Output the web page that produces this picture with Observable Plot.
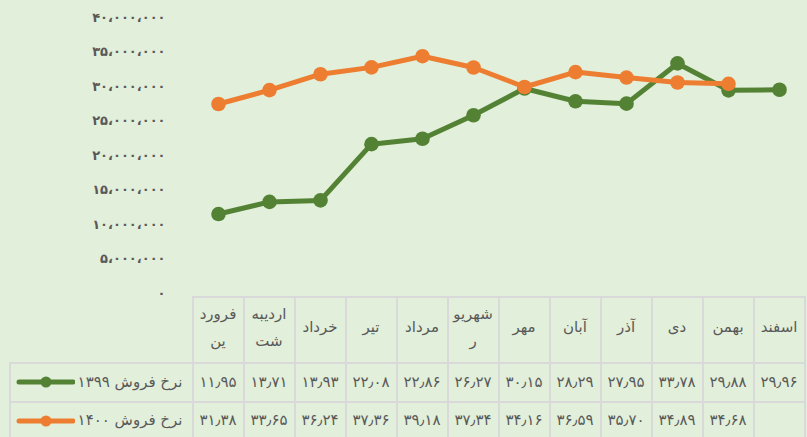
<!DOCTYPE html>
<html>
<head>
<meta charset="utf-8">
<script src="https://cdn.jsdelivr.net/npm/d3@7"></script>
<script src="https://cdn.jsdelivr.net/npm/@observablehq/plot@0.6"></script>
<style>
  html, body { margin: 0; padding: 0; background: #E2EFDA; }
  #chart { position: relative; width: 807px; height: 437px; overflow: hidden; background: #E2EFDA;
           font-family: "DejaVu Sans", sans-serif; color: #595959; }
  #chart svg { position: absolute; left: 0; top: 0; }
  .cell { position: absolute; box-sizing: border-box; border: 2px solid #d9d9d9;
          display: flex; align-items: center; justify-content: center; text-align: center;
          font-size: 15px; color: #595959; white-space: pre-line; line-height: 27px; direction: rtl; }
  .hdr { padding-bottom: 5px; }
  .val { letter-spacing: 1px; }
  .legcell { justify-content: space-between; direction: ltr; padding: 0 9px 0 4px; }
</style>
</head>
<body>
<div id="chart"></div>
<script>
// ---- data ----
const months = ["فروردین","اردیبهشت","خرداد","تیر","مرداد","شهریور","مهر","آبان","آذر","دی","بهمن","اسفند"];
const monthLabels = ["فرورد\nین","اردیبه\nشت","خرداد","تیر","مرداد","شهریو\nر","مهر","آبان","آذر","دی","بهمن","اسفند"];
const series1399Name = "نرخ فروش ۱۳۹۹";
const series1400Name = "نرخ فروش ۱۴۰۰";
// values in millions
const sales1399 = [11.95, 13.71, 13.93, 22.08, 22.86, 26.27, 30.15, 28.29, 27.95, 33.78, 29.88, 29.96];
const sales1400 = [31.38, 33.65, 36.24, 37.36, 39.18, 37.34, 34.16, 36.59, 35.70, 34.89, 34.68];
const yTicks = [0, 5e6, 10e6, 15e6, 20e6, 25e6, 30e6, 35e6, 40e6];
const primaryMax = 40;    // primary axis max (millions)
const secondaryMax = 45;  // hidden secondary axis max used by the 1400 series (millions)

const green = "#548235";
const orange = "#ED7D31";

const faDigits = s => String(s).replace(/\d/g, d => "۰۱۲۳۴۵۶۷۸۹"[d]);
const fmtTick = v => faDigits(d3.format(",")(v)).replace(/,/g, "،");
const fmtVal = v => faDigits(v.toFixed(2)).replace(".", "٫");

const d1399 = sales1399.map((v, i) => ({month: months[i], value: v * 1e6}));
const d1400 = sales1400.map((v, i) => ({month: months[i], value: v * 1e6 * primaryMax / secondaryMax}));

const plot = Plot.plot({
  width: 807, height: 297,
  marginLeft: 172, marginRight: 0, marginTop: 20, marginBottom: 1,
  style: {background: "transparent", fontFamily: "DejaVu Sans", color: "#595959", overflow: "visible"},
  x: {type: "point", domain: months, range: [213.6, 783.4], padding: 0, axis: null},
  y: {domain: [0, 40e6], axis: null},
  marks: [
    Plot.axisY({ticks: yTicks, tickSize: 0, tickPadding: 7, tickFormat: fmtTick, fontSize: 13, fontWeight: "bold", fill: "#595959", anchor: "left", dy: -3, label: null}),
    Plot.line(d1399, {x: "month", y: "value", stroke: green, strokeWidth: 5, strokeLinecap: "round", strokeLinejoin: "round"}),
    Plot.dot(d1399, {x: "month", y: "value", fill: green, r: 7.3}),
    Plot.line(d1400, {x: "month", y: "value", stroke: orange, strokeWidth: 5, strokeLinecap: "round", strokeLinejoin: "round"}),
    Plot.dot(d1400, {x: "month", y: "value", fill: orange, r: 7.3})
  ]
});

const chart = document.getElementById("chart");
chart.appendChild(plot);

// ---- data table below the plot, aligned to Plot's x scale ----
const xs = plot.scale("x");
const step = xs.apply(months[1]) - xs.apply(months[0]);
const rows = [
  {top: 297, bottom: 363.3},
  {top: 363.3, bottom: 401.7},
  {top: 401.7, bottom: 440}
];
const tableLeft = 10;

function cell(x0, x1, y0, y1, html, cls) {
  const d = document.createElement("div");
  d.className = "cell" + (cls ? " " + cls : "");
  d.style.left = (x0 - 1) + "px";
  d.style.top = (y0 - 1) + "px";
  d.style.width = (x1 - x0 + 2) + "px";
  d.style.height = (y1 - y0 + 2) + "px";
  d.innerHTML = html;
  chart.appendChild(d);
  return d;
}

months.forEach((m, i) => {
  const c = xs.apply(m);
  const x0 = c - step / 2, x1 = c + step / 2;
  cell(x0, x1, rows[0].top, rows[0].bottom, monthLabels[i], "hdr");
  cell(x0, x1, rows[1].top, rows[1].bottom, fmtVal(sales1399[i]), "val");
  cell(x0, x1, rows[2].top, rows[2].bottom, i < sales1400.length ? fmtVal(sales1400[i]) : "", "val");
});

const firstLeft = xs.apply(months[0]) - step / 2;
function key(color) {
  return `<svg width="60" height="14" style="position:static"><line x1="4" y1="7" x2="58" y2="7" stroke="${color}" stroke-width="5" stroke-linecap="round"/><circle cx="31" cy="7" r="5.5" fill="${color}"/></svg>`;
}
cell(tableLeft, firstLeft, rows[1].top, rows[1].bottom, key(green) + `<span dir="rtl">${series1399Name}</span>`, "legcell");
cell(tableLeft, firstLeft, rows[2].top, rows[2].bottom, key(orange) + `<span dir="rtl">${series1400Name}</span>`, "legcell");
</script>
</body>
</html>
